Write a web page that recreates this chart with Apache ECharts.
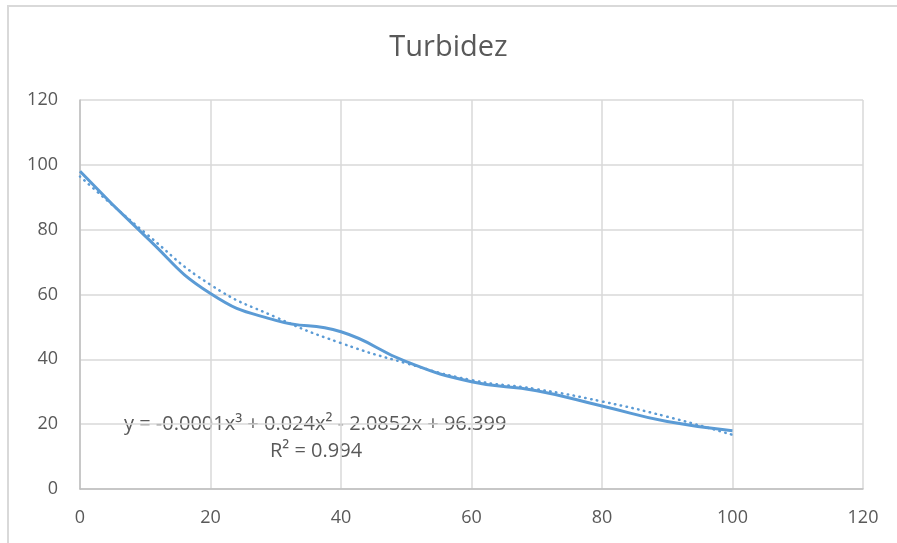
<!DOCTYPE html>
<html><head><meta charset="utf-8">
<script src="https://cdn.jsdelivr.net/npm/echarts@6/dist/echarts.min.js"></script>
<style>html,body{margin:0;padding:0;background:#fff}#c{width:897px;height:543px}</style>
</head><body><div id="c"></div>
<script>
const xValues = [0, 10, 20, 30, 40, 50, 60, 70, 80, 90, 100];
const turbidez = [98, 78, 60.3, 52, 48.5, 39.3, 33.1, 30.3, 25.6, 20.8, 18];
const trend = [96.4, 79, 63, 53, 45, 38.8, 33.6, 30.8, 27, 22.3, 16.7];
const ticks = [0, 20, 40, 60, 80, 100, 120];
const eqText = 'y = -0.0001x³ + 0.024x² - 2.0852x + 96.399';
const r2Text = 'R² = 0.994';

const FONT = 'Open Sans';
const chart = echarts.init(document.getElementById('c'));
chart.setOption({
  animation: false,
  title: { text: 'Turbidez', left: 'center', top: 28,
    textStyle: { fontFamily: FONT, fontSize: 29, fontWeight: 'normal', color: '#595959' } },
  grid: { left: 80, right: 34, top: 100, bottom: 54 },
  xAxis: { type: 'value', min: ticks[0], max: ticks[ticks.length - 1], interval: 20,
    axisLine: { show: true, lineStyle: { color: '#bfbfbf', width: 1.5 } },
    axisTick: { show: false },
    axisLabel: { fontFamily: FONT, fontSize: 18, color: '#595959', margin: 20 },
    splitLine: { show: true, lineStyle: { color: '#d9d9d9', width: 1.5 } } },
  yAxis: { type: 'value', min: ticks[0], max: ticks[ticks.length - 1], interval: 20,
    axisLine: { show: true, lineStyle: { color: '#bfbfbf', width: 1.5 } },
    axisTick: { show: false },
    axisLabel: { fontFamily: FONT, fontSize: 18, color: '#595959', margin: 22 },
    splitLine: { show: true, lineStyle: { color: '#d9d9d9', width: 1.5 } } },
  series: [
    { type: 'line', data: trend.map((v, i) => [xValues[i], v]), smooth: true, symbol: 'none',
      lineStyle: { color: '#5B9BD5', width: 2.5, type: [0.5, 5.5], cap: 'round' }, z: 2 },
    { type: 'line', data: turbidez.map((v, i) => [xValues[i], v]), smooth: 0.5, symbol: 'none',
      lineStyle: { color: '#5B9BD5', width: 3 }, z: 3 }
  ],
  graphic: [
    { type: 'rect', shape: { x: 8, y: 6, width: 920, height: 560 },
      style: { fill: 'none', stroke: '#d9d9d9', lineWidth: 2 }, silent: true },
    { type: 'text', left: 124, top: 414,
      style: { text: eqText, fontFamily: FONT, fontSize: 20, fill: '#595959' } },
    { type: 'text', left: 270, top: 441,
      style: { text: r2Text, fontFamily: FONT, fontSize: 20, fill: '#595959' } }
  ]
});
</script></body></html>
